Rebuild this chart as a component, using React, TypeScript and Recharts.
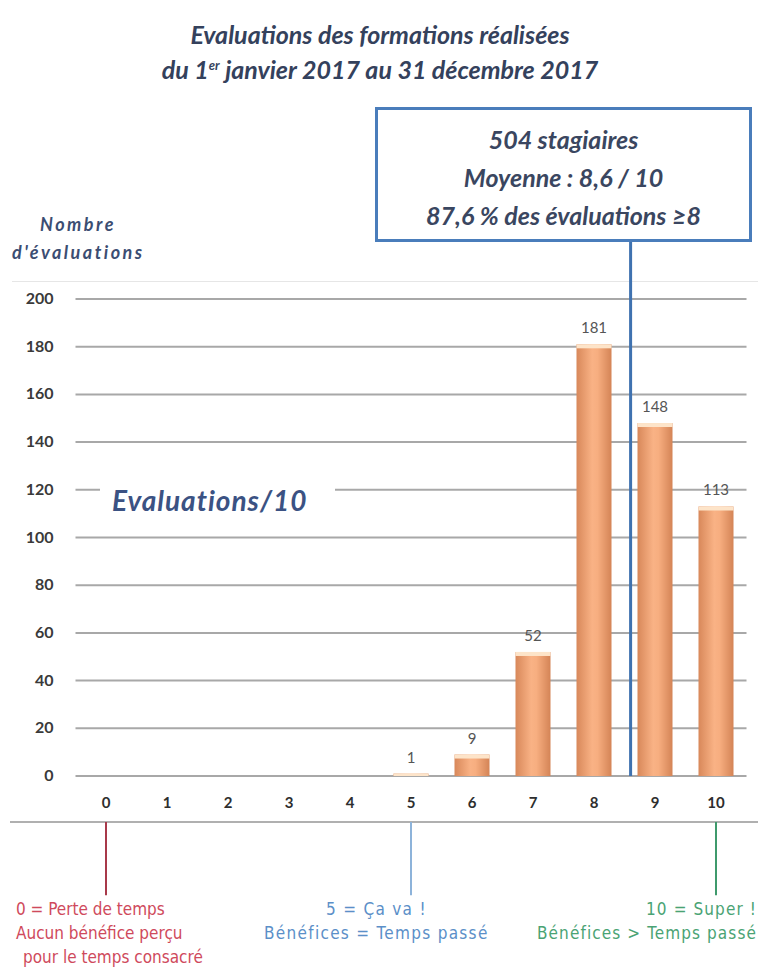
import React from 'react';
import { ComposedChart, Bar, XAxis, YAxis, CartesianGrid, LabelList, ReferenceLine } from 'recharts';

const notes = ['0', '1', '2', '3', '4', '5', '6', '7', '8', '9', '10'];
const noteValues = [0, 1, 2, 3, 4, 5, 6, 7, 8, 9, 10];
const counts = [0, 0, 0, 0, 0, 1, 9, 52, 181, 148, 113];
const yTicks = [0, 20, 40, 60, 80, 100, 120, 140, 160, 180, 200];
const meanNote = 8.6;
const meanLineTop = 224;
const scaleMarks = [
  { x: 0, color: '#a8394a' },
  { x: 5, color: '#8db3da' },
  { x: 10, color: '#3f9a6c' },
];
const scaleMarkRange = [-19.3, -50];

const data = notes.map((n, i) => ({ note: n, n: noteValues[i], v: counts[i] }));

const BarShape = (props: any) => {
  const { x, y, width, height } = props;
  if (!height || height <= 0) return null;
  const cap = Math.min(4, height);
  return (
    <g>
      <rect x={x} y={y} width={width} height={height} fill="url(#barGrad)" />
      <rect x={x} y={y} width={width} height={cap} fill="#fde4c9" />
    </g>
  );
};

const YTick = (props: any) => {
  const { x, y, payload } = props;
  return (
    <text x={x} y={y} dy={5} textAnchor="end" fontFamily="Lato, 'Open Sans', sans-serif" fontWeight={700} fontSize={16} fill="#3a3a3a">
      {payload.value}
    </text>
  );
};

const XTick = (props: any) => {
  const { x, y, payload } = props;
  return (
    <text x={x} y={y} dy={12} textAnchor="middle" fontFamily="Lato, 'Open Sans', sans-serif" fontWeight={700} fontSize={15} fill="#2e2e2e">
      {payload.value}
    </text>
  );
};

const titleFont = "Lato, 'Open Sans', sans-serif";
const noteFont = "'Liberation Sans Narrow', 'DejaVu Sans Condensed', sans-serif";

export default function App() {
  return (
    <div style={{ position: 'absolute', left: 0, top: 0, width: 758, height: 977, background: '#fff', overflow: 'hidden' }}>
      <div style={{ position: 'absolute', left: 0, top: 17, width: 760, textAlign: 'center', fontFamily: titleFont, fontStyle: 'italic', fontWeight: 700, fontSize: 25, lineHeight: '35px', color: '#34415c' }}>
        <div>Evaluations des formations réalisées</div>
        <div>du 1<sup style={{ fontSize: 13, lineHeight: 0 }}>er</sup> janvier 2017 au 31 décembre 2017</div>
      </div>
      <div style={{ position: 'absolute', left: 12, top: 281, width: 746, height: 1, background: '#e6e6e6' }} />
      <div style={{ position: 'absolute', left: 10, top: 821, width: 748, height: 2, background: '#b0b0b0' }} />

      <ComposedChart
        width={758}
        height={977}
        data={data}
        margin={{ top: 299, right: 11.5, bottom: 171, left: 15.5 }}
        style={{ position: 'absolute', left: 0, top: 0 }}
      >
        <defs>
          <linearGradient id="barGrad" x1="0" y1="0" x2="1" y2="0">
            <stop offset="0%" stopColor="#d8885a" />
            <stop offset="45%" stopColor="#f9b285" />
            <stop offset="60%" stopColor="#f7ae80" />
            <stop offset="100%" stopColor="#d48456" />
          </linearGradient>
        </defs>
        <CartesianGrid vertical={false} stroke="#a8a8a8" strokeWidth={2} />
        <XAxis xAxisId="cat" dataKey="note" height={30} axisLine={false} tickLine={false} tickMargin={14} tick={<XTick />} interval={0} />
        <XAxis xAxisId="num" dataKey="n" type="number" domain={[0, 10]} padding={{ left: 30.5, right: 30.5 }} hide />
        <YAxis width={60} domain={[0, 200]} ticks={yTicks} axisLine={false} tickLine={false} tickMargin={16} tick={<YTick />} interval={0} />
        <Bar xAxisId="cat" dataKey="v" barSize={35} shape={<BarShape />} isAnimationActive={false}>
          <LabelList
            dataKey="v"
            position="top"
            offset={11}
            formatter={(v: any) => (v > 0 ? v : '')}
            style={{ fontFamily: "Lato, 'Open Sans', sans-serif", fontSize: 15, fill: '#555' }}
          />
        </Bar>
        <ReferenceLine
          xAxisId="num"
          segment={[{ x: meanNote, y: 0 }, { x: meanNote, y: meanLineTop }]}
          stroke="#3f72b0"
          strokeWidth={3}
          ifOverflow="visible"
        />
        {scaleMarks.map((m) => (
          <ReferenceLine
            key={m.x}
            xAxisId="num"
            segment={[{ x: m.x, y: scaleMarkRange[0] }, { x: m.x, y: scaleMarkRange[1] }]}
            stroke={m.color}
            strokeWidth={2}
            ifOverflow="visible"
          />
        ))}
      </ComposedChart>

      <div style={{ position: 'absolute', left: 40, top: 213, fontFamily: titleFont, fontStyle: 'italic', fontWeight: 700, fontSize: 18, letterSpacing: 2.5, color: '#3b4d72' }}>Nombre</div>
      <div style={{ position: 'absolute', left: 12, top: 241, fontFamily: titleFont, fontStyle: 'italic', fontWeight: 700, fontSize: 18, letterSpacing: 2.5, color: '#3b4d72' }}>d'évaluations</div>

      <div style={{ position: 'absolute', left: 100, top: 480, width: 235, height: 40, background: '#fff' }} />
      <div style={{ position: 'absolute', left: 112, top: 483, fontFamily: titleFont, fontStyle: 'italic', fontWeight: 700, fontSize: 28, letterSpacing: 1, color: '#3b5283' }}>Evaluations/10</div>

      <div style={{ position: 'absolute', left: 375, top: 107, width: 371, height: 119, border: '3px solid #4a7dbb', background: '#fff', fontFamily: titleFont, fontStyle: 'italic', fontWeight: 700, fontSize: 25, color: '#3a4660', textAlign: 'center', lineHeight: '38px', paddingTop: 10, boxSizing: 'content-box' }}>
        <div>504 stagiaires</div>
        <div>Moyenne : 8,6 / 10</div>
        <div>87,6 % des évaluations ≥8</div>
      </div>

      <div style={{ position: 'absolute', left: 16, top: 897, fontFamily: noteFont, fontSize: 17, lineHeight: '24px', color: '#cf4a5c' }}>
        <div>0 = Perte de temps</div>
        <div>Aucun bénéfice perçu</div>
        <div style={{ paddingLeft: 7 }}>pour le temps consacré</div>
      </div>
      <div style={{ position: 'absolute', left: 264, top: 897, whiteSpace: 'nowrap', fontFamily: noteFont, fontSize: 17, letterSpacing: 1.3, lineHeight: '24px', color: '#5b8fc8' }}>
        <div style={{ paddingLeft: 62 }}>5 = Ça va !</div>
        <div>Bénéfices = Temps passé</div>
      </div>
      <div style={{ position: 'absolute', right: 1, top: 897, textAlign: 'right', whiteSpace: 'nowrap', fontFamily: noteFont, fontSize: 17, letterSpacing: 1.1, lineHeight: '24px', color: '#4aa374' }}>
        <div>10 = Super !</div>
        <div>Bénéfices &gt; Temps passé</div>
      </div>
    </div>
  );
}
